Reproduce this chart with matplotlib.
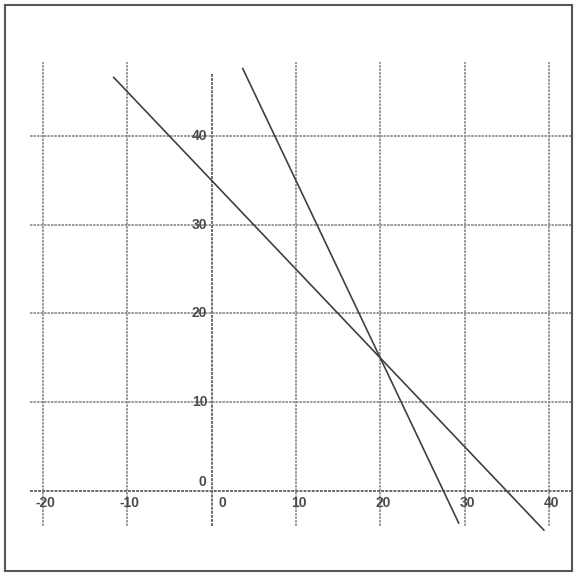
import matplotlib
matplotlib.use("Agg")
import matplotlib.pyplot as plt
from matplotlib.patches import Rectangle

# data
x_ticks = [-20, -10, 0, 10, 20, 30, 40]
y_ticks = [10, 20, 30, 40]
# line 1: y = 35 - x ; line 2: y = 55 - 2x
line1_x = [-11.6, 39.4]
line1_y = [35 - v for v in line1_x]
line2_x = [3.7, 29.3]
line2_y = [55 - 2 * v for v in line2_x]

W = 578
fig = plt.figure(figsize=(W / 100, W / 100), dpi=100)
ax = fig.add_axes([0, 0, 1, 1])
ax.set_xlim(-25.08, 43.45)
ax.set_ylim(-9.80, 55.32)
ax.axis("off")

grid_c = "#8a8a8a"
axis_c = "#6a6a6a"
line_c = "#404040"
txt_c = "#4a4a4a"

# vertical gridlines
for xv in x_ticks:
    if xv == 0:
        ax.plot([0, 0], [-3.9, 47.1], color=axis_c, lw=1.4, ls=(0, (1.5, 0.6)))
    else:
        ax.plot([xv, xv], [-3.9, 48.3], color=grid_c, lw=1.2, ls=(0, (1.5, 0.6)))
# horizontal gridlines
for yv in y_ticks:
    ax.plot([-21.5, 42.6], [yv, yv], color=grid_c, lw=1.2, ls=(0, (1.5, 0.6)))
# x axis
ax.plot([-21.5, 42.6], [0, 0], color=axis_c, lw=1.4, ls=(0, (1.5, 0.6)))

# data lines
ax.plot(line1_x, line1_y, color=line_c, lw=1.2)
ax.plot(line2_x, line2_y, color=line_c, lw=1.2)

font = dict(family="Liberation Sans", fontsize=10, fontweight="bold", color=txt_c)
# y tick labels
for yv in y_ticks:
    ax.text(-0.5, yv, str(yv), ha="right", va="center", **font)
ax.text(-0.6, 1.0, "0", ha="right", va="center", **font)
# x tick labels
for xv in x_ticks:
    off = 1.3 if xv == 0 else 0.3
    ax.text(xv + off, -1.3, str(xv), ha="center", va="center", **font)

# frame
fig.patches.append(Rectangle((5 / W, 1 - 571 / W), 567 / W, 566 / W,
                             transform=fig.transFigure, fill=False,
                             edgecolor="#555555", lw=1.5))

fig.savefig("out.png", dpi=100, facecolor="white")
